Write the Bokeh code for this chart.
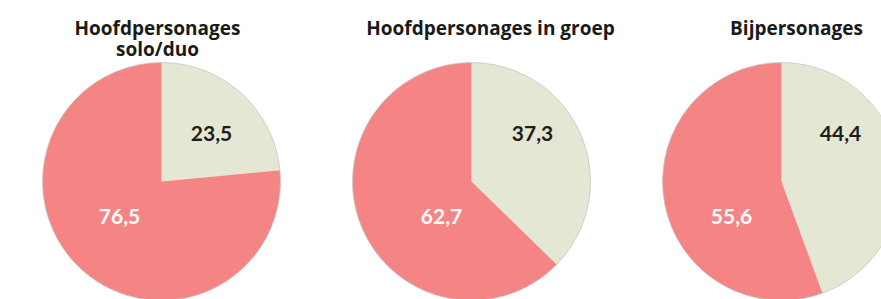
import math
from bokeh.plotting import figure
from bokeh.models import Range1d, ColumnDataSource
from bokeh.core.properties import value
from bokeh.embed import file_html
from bokeh.resources import INLINE

# ---- data ----
titles = [["Hoofdpersonages", "solo/duo"], ["Hoofdpersonages in groep"], ["Bijpersonages"]]
slice_names = ["grey", "red"]
values_solo_duo = [23.5, 76.5]
values_groep = [37.3, 62.7]
values_bij = [44.4, 55.6]
all_values = [values_solo_duo, values_groep, values_bij]

def fmt(v):
    return f"{v:.1f}".replace(".", ",")

# ---- layout (screen pixels; data coords mapped 1:1) ----
W, H = 881, 299
centers_x = [161, 471, 781]
center_y_screen = 181
radius = 119
colors = ["#E3E7D4", "#F58585"]
label_colors = ["#1e1e1e", "#ffffff"]
label_dx = [[50, -42], [61, -30], [59, -50]]
label_y_screen = [133, 216]
title_cx = [157, 490, 796]
title_y_screen = [27, 48]

def Y(sy):
    return H - sy

p = figure(width=W, height=H, output_backend="svg", toolbar_location=None,
           x_range=Range1d(0, W), y_range=Range1d(0, H),
           min_border=0, outline_line_color=None)
p.axis.visible = False
p.grid.visible = False
p.background_fill_color = "white"
p.border_fill_color = "white"

wx, wy, ws, we, wc = [], [], [], [], []
lx, ly, lt, lc = [], [], [], []
for i, vals in enumerate(all_values):
    total = sum(vals)
    start = math.pi / 2
    for j, v in enumerate(vals):
        end = start - 2 * math.pi * v / total
        wx.append(centers_x[i]); wy.append(Y(center_y_screen))
        ws.append(start); we.append(end); wc.append(colors[j])
        lx.append(centers_x[i] + label_dx[i][j]); ly.append(Y(label_y_screen[j]))
        lt.append(fmt(v)); lc.append(label_colors[j])
        start = end

src = ColumnDataSource(dict(x=wx, y=wy, s=ws, e=we, c=wc))
p.wedge(x="x", y="y", radius=radius, radius_units="screen", start_angle="s", end_angle="e",
        direction="clock", fill_color="c", line_color=None, source=src)
p.circle(x=centers_x, y=[Y(center_y_screen)] * 3, radius=radius, radius_units="screen",
         fill_color=None, line_color="#c8c8c8", line_width=0.8)

lsrc = ColumnDataSource(dict(x=lx, y=ly, t=lt, c=lc))
p.text(x="x", y="y", text="t", text_color="c", source=lsrc, text_align="center",
       text_baseline="middle", text_font=value("Lato"), text_font_style="bold",
       text_font_size="21px")

tx, ty, tt = [], [], []
for i, lines in enumerate(titles):
    for k, line in enumerate(lines):
        tx.append(title_cx[i]); ty.append(Y(title_y_screen[k])); tt.append(line)
p.text(x=tx, y=ty, text=tt, text_color="#1a1a1a", text_align="center",
       text_baseline="middle", text_font=value("Open Sans"), text_font_style="bold",
       text_font_size="19px")

open("out.html", "w").write(file_html(p, INLINE))
